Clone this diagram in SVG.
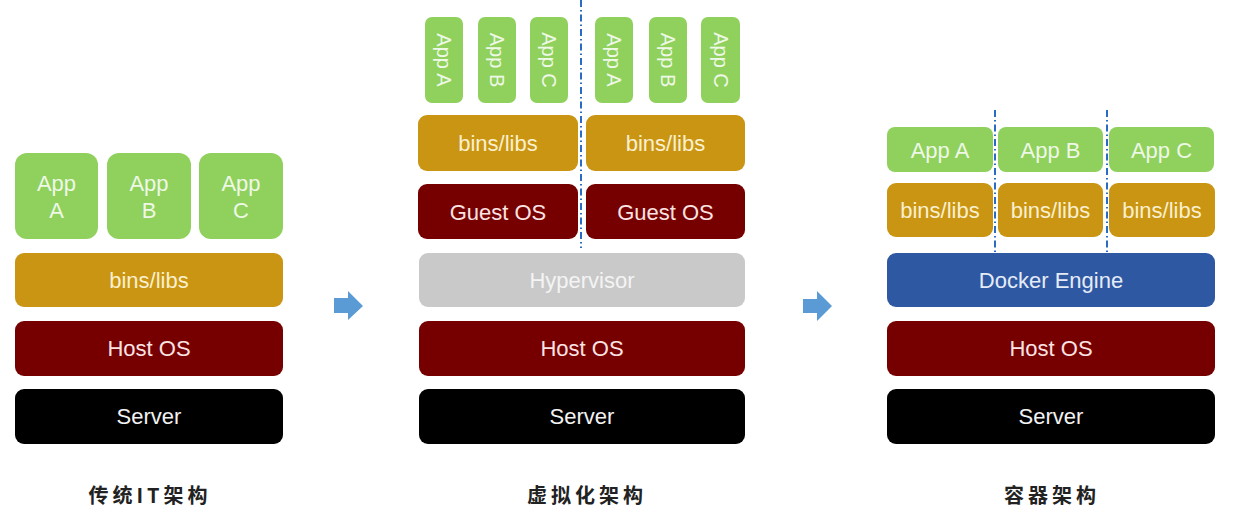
<svg xmlns="http://www.w3.org/2000/svg" width="1233" height="517" viewBox="0 0 1233 517">
<style>
.app{fill:#8fd15c}
.bins{fill:#c99512}
.host{fill:#760000}
.srv{fill:#000}
.hyp{fill:#c9c9c9}
.dock{fill:#2f58a3}
.t{font-family:"Liberation Sans",Arial,sans-serif;font-size:22px;text-anchor:middle;dominant-baseline:central}
.v{font-size:20px}
.tapp{fill:#eef8e6}
.tbins{fill:#fbf0cf}
.thost{fill:#fbe3e3}
.tsrv{fill:#f2f2f2}
.thyp{fill:#f4f4f4}
.tdock{fill:#e6ecf7}
.cap{font-family:"Noto Sans CJK SC",sans-serif;font-size:20px;font-weight:bold;fill:#222;text-anchor:middle;letter-spacing:4px}
.dash{stroke:#2a6cc4;stroke-width:2;stroke-dasharray:7 3 1.5 3;fill:none}
.arr{fill:#5b9bd5}
</style>

<!-- Traditional -->
<g id="trad-appA"><rect class="app" x="15" y="153" width="83" height="86" rx="12"/><text class="t tapp" x="56.5" y="183">App</text><text class="t tapp" x="56.5" y="210">A</text></g>
<g id="trad-appB"><rect class="app" x="107" y="153" width="84" height="86" rx="12"/><text class="t tapp" x="149" y="183">App</text><text class="t tapp" x="149" y="210">B</text></g>
<g id="trad-appC"><rect class="app" x="199" y="153" width="84" height="86" rx="12"/><text class="t tapp" x="241" y="183">App</text><text class="t tapp" x="241" y="210">C</text></g>
<g id="trad-bins"><rect class="bins" x="15" y="253" width="268" height="54" rx="9"/><text class="t tbins" x="149" y="280">bins/libs</text></g>
<g id="trad-host"><rect class="host" x="15" y="321" width="268" height="55" rx="9"/><text class="t thost" x="149" y="348">Host OS</text></g>
<g id="trad-server"><rect class="srv" x="15" y="389" width="268" height="55" rx="9"/><text class="t tsrv" x="149" y="416">Server</text></g>

<!-- Virtualization -->
<g id="vm-appA1"><rect class="app" x="425" y="17" width="38" height="86" rx="7"/><text class="t v tapp" transform="translate(444,60) rotate(90)">App A</text></g>
<g id="vm-appB1"><rect class="app" x="478" y="17" width="38" height="86" rx="7"/><text class="t v tapp" transform="translate(497,60) rotate(90)">App B</text></g>
<g id="vm-appC1"><rect class="app" x="530" y="17" width="38" height="86" rx="7"/><text class="t v tapp" transform="translate(549,60) rotate(90)">App C</text></g>
<g id="vm-appA2"><rect class="app" x="595" y="17" width="38" height="86" rx="7"/><text class="t v tapp" transform="translate(614,60) rotate(90)">App A</text></g>
<g id="vm-appB2"><rect class="app" x="649" y="17" width="38" height="86" rx="7"/><text class="t v tapp" transform="translate(668,60) rotate(90)">App B</text></g>
<g id="vm-appC2"><rect class="app" x="701" y="17" width="39" height="86" rx="7"/><text class="t v tapp" transform="translate(720.5,60) rotate(90)">App C</text></g>
<g id="vm-bins1"><rect class="bins" x="418" y="115" width="160" height="56" rx="9"/><text class="t tbins" x="498" y="143">bins/libs</text></g>
<g id="vm-bins2"><rect class="bins" x="586" y="115" width="159" height="56" rx="9"/><text class="t tbins" x="665.5" y="143">bins/libs</text></g>
<g id="vm-guest1"><rect class="host" x="418" y="184" width="160" height="55" rx="9"/><text class="t thost" x="498" y="212">Guest OS</text></g>
<g id="vm-guest2"><rect class="host" x="586" y="184" width="159" height="55" rx="9"/><text class="t thost" x="665.5" y="212">Guest OS</text></g>
<g id="vm-hyp"><rect class="hyp" x="419" y="253" width="326" height="54" rx="9"/><text class="t thyp" x="582" y="280">Hypervisor</text></g>
<g id="vm-host"><rect class="host" x="419" y="321" width="326" height="55" rx="9"/><text class="t thost" x="582" y="348">Host OS</text></g>
<g id="vm-server"><rect class="srv" x="419" y="389" width="326" height="55" rx="9"/><text class="t tsrv" x="582" y="416">Server</text></g>

<!-- Container -->
<g id="ct-appA"><rect class="app" x="887" y="127" width="106" height="45" rx="8"/><text class="t tapp" x="940" y="150">App A</text></g>
<g id="ct-appB"><rect class="app" x="998" y="127" width="105" height="45" rx="8"/><text class="t tapp" x="1050.5" y="150">App B</text></g>
<g id="ct-appC"><rect class="app" x="1109" y="127" width="105" height="45" rx="8"/><text class="t tapp" x="1161.5" y="150">App C</text></g>
<g id="ct-bins1"><rect class="bins" x="887" y="183" width="106" height="54" rx="9"/><text class="t tbins" x="940" y="210">bins/libs</text></g>
<g id="ct-bins2"><rect class="bins" x="998" y="183" width="105" height="54" rx="9"/><text class="t tbins" x="1050.5" y="210">bins/libs</text></g>
<g id="ct-bins3"><rect class="bins" x="1109" y="183" width="106" height="54" rx="9"/><text class="t tbins" x="1162" y="210">bins/libs</text></g>
<g id="ct-docker"><rect class="dock" x="887" y="253" width="328" height="54" rx="9"/><text class="t tdock" x="1051" y="280">Docker Engine</text></g>
<g id="ct-host"><rect class="host" x="887" y="321" width="328" height="55" rx="9"/><text class="t thost" x="1051" y="348">Host OS</text></g>
<g id="ct-server"><rect class="srv" x="887" y="389" width="328" height="55" rx="9"/><text class="t tsrv" x="1051" y="416">Server</text></g>

<!-- Connectors / separators -->
<g id="connectors">
<line class="dash" x1="581" y1="0" x2="581" y2="248"/>
<line class="dash" x1="995" y1="110" x2="995" y2="252"/>
<line class="dash" x1="1107" y1="110" x2="1107" y2="252"/>
<path class="arr" d="M334,298 H348 V291 L363,306 L348,320 V313 H334 Z"/>
<path class="arr" d="M803,299 H817 V291 L832,306 L817,321 V313 H803 Z"/>
</g>

<!-- Captions -->
<g id="captions">
<text class="cap" x="150" y="503">传统IT架构</text>
<text class="cap" x="587" y="503">虚拟化架构</text>
<text class="cap" x="1052" y="503">容器架构</text>
</g>
</svg>
